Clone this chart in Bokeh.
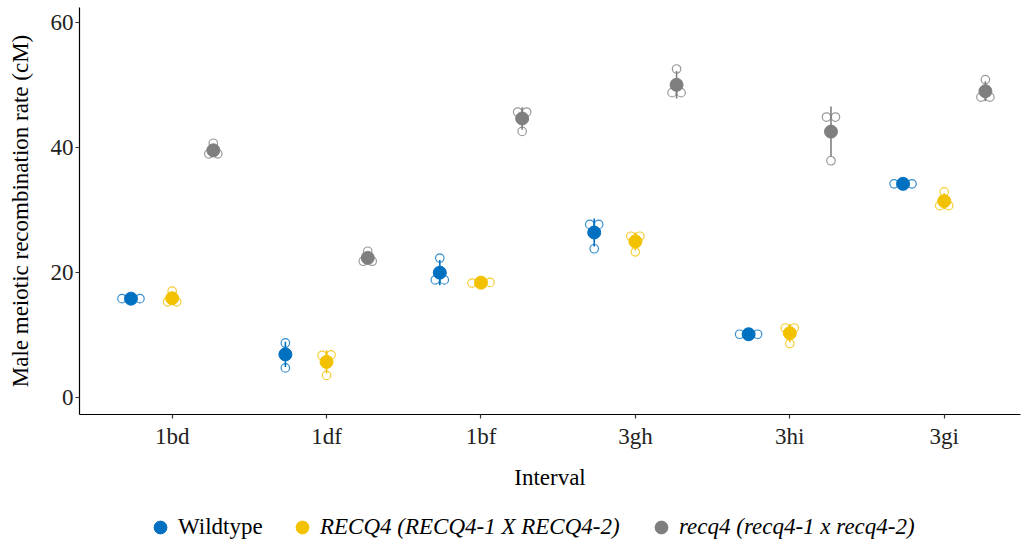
import numpy as np
from bokeh.plotting import figure
from bokeh.layouts import column
from bokeh.models import Range1d, FixedTicker, Legend, LegendItem
from bokeh.embed import file_html
from bokeh.resources import INLINE

# ---------------- data ----------------
intervals = ["1bd", "1df", "1bf", "3gh", "3hi", "3gi"]
genotypes = ["Wildtype", "RECQ4 (RECQ4-1 X RECQ4-2)", "recq4 (recq4-1 x recq4-2)"]

wildtype = [
    [15.8, 15.8, 15.8],
    [8.7, 7.2, 4.7],
    [22.3, 18.8, 18.8],
    [27.7, 27.7, 23.8],
    [10.1, 10.1, 10.1],
    [34.2, 34.2, 34.2],
]
recq4_het = [
    [17.0, 15.3, 15.3],
    [6.8, 6.7, 3.5],
    [18.4, 18.3, 18.4],
    [25.8, 25.8, 23.3],
    [11.1, 11.1, 8.6],
    [32.9, 30.7, 30.7],
]
recq4_mut = [
    [40.7, 39.0, 39.0],
    [23.4, 21.8, 21.8],
    [45.7, 45.7, 42.6],
    [52.6, 48.8, 48.8],
    [44.9, 44.9, 37.9],
    [50.9, 48.1, 48.1],
]
series = [wildtype, recq4_het, recq4_mut]

# ---------------- style ----------------
colors = ["#0070C0", "#F2C200", "#7F7F7F"]
FONT = "Liberation Serif"
dodge_width = 0.8
swarm_step = 0.058
swarm_tol = 1.2


def swarm_offsets(vals, step, tol):
    vals = np.asarray(vals, dtype=float)
    order = np.argsort(vals, kind="stable")
    offs = np.zeros(len(vals))
    groups, cur = [], [order[0]]
    for k in range(1, len(order)):
        if vals[order[k]] - vals[order[k - 1]] < tol:
            cur.append(order[k])
        else:
            groups.append(cur)
            cur = [order[k]]
    groups.append(cur)
    for g in groups:
        n = len(g)
        for j, i in enumerate(g):
            offs[i] = (j - (n - 1) / 2) * step
    return offs


p = figure(width=1027, height=500, output_backend="svg", toolbar_location=None,
           x_range=Range1d(0.4, 6.494), y_range=Range1d(-2.76, 62.45),
           min_border_left=79, min_border_right=7, min_border_top=7,
           min_border_bottom=86)
p.outline_line_color = None
p.xgrid.visible = False
p.ygrid.visible = False

cat_idx = np.arange(1, len(intervals) + 1)
n_g = len(series)

for gi, (data, col) in enumerate(zip(series, colors)):
    off = (gi - (n_g - 1) / 2) * dodge_width / n_g
    px, py = [], []
    mx, my, lo, hi = [], [], [], []
    for ci, vals in enumerate(data):
        xc = cat_idx[ci] + off
        so = swarm_offsets(vals, swarm_step, swarm_tol)
        px.extend(list(xc + so))
        py.extend(vals)
        m = float(np.mean(vals))
        s = float(np.std(vals, ddof=1))
        mx.append(xc)
        my.append(m)
        lo.append(m - s)
        hi.append(m + s)
    p.segment(x0=mx, y0=lo, x1=mx, y1=hi, line_color=col, line_width=1.6)
    p.scatter(x=px, y=py, size=8.5, marker="circle", fill_color=None,
              line_color=col, line_width=1.2, line_alpha=0.8)
    p.scatter(x=mx, y=my, size=13, marker="circle", fill_color=col,
              line_color=col, line_width=1)

# axes
p.xaxis.ticker = FixedTicker(ticks=list(cat_idx))
p.xaxis.major_label_overrides = {int(i): lab for i, lab in zip(cat_idx, intervals)}
p.yaxis.ticker = FixedTicker(ticks=[0, 20, 40, 60])
for ax in (p.xaxis[0], p.yaxis[0]):
    ax.axis_line_color = "black"
    ax.axis_line_width = 1.2
    ax.major_tick_line_color = "#333333"
    ax.major_tick_line_width = 1.2
    ax.major_tick_in = 0
    ax.major_tick_out = 4
    ax.minor_tick_line_color = None
    ax.major_label_text_font = FONT
    ax.major_label_text_font_size = "23px"
    ax.major_label_text_color = "#222222"
    ax.axis_label_text_font = FONT
    ax.axis_label_text_font_size = "23px"
    ax.axis_label_text_font_style = "normal"
    ax.axis_label_text_color = "black"

p.xaxis.axis_label = "Interval"
p.yaxis.axis_label = "Male meiotic recombination rate (cM)"
p.xaxis.major_label_standoff = 5
p.xaxis.axis_label_standoff = 13
p.yaxis.major_label_standoff = 2
p.yaxis.axis_label_standoff = 15

# ---------------- legend strip ----------------
leg = figure(width=1027, height=43, output_backend="svg", toolbar_location=None,
             x_range=Range1d(0, 1), y_range=Range1d(0, 1),
             x_axis_location=None, y_axis_location=None,
             min_border=0)
leg.outline_line_color = None
leg.xgrid.visible = False
leg.ygrid.visible = False

# legend proxies (kept off-screen; only their legend glyphs are seen)
legend_pos = [(65, 0), (207, 0), (566, 0)]
for gi, col in enumerate(colors):
    r = leg.scatter(x=[0.5], y=[-5], marker="circle", size=13, fill_color=col,
                    line_color=col)
    lg = Legend(items=[LegendItem(label=genotypes[gi], renderers=[r])],
                location=legend_pos[gi], orientation="horizontal",
                padding=0, margin=0, spacing=0,
                glyph_width=32, glyph_height=32, label_height=32,
                label_standoff=2, border_line_color=None,
                background_fill_alpha=0,
                label_text_font=FONT, label_text_font_size="23px",
                label_text_color="black",
                label_text_font_style="normal" if gi == 0 else "italic")
    leg.add_layout(lg, "center")

layout = column(p, leg, spacing=0)
open("out.html", "w").write(file_html(layout, INLINE))
